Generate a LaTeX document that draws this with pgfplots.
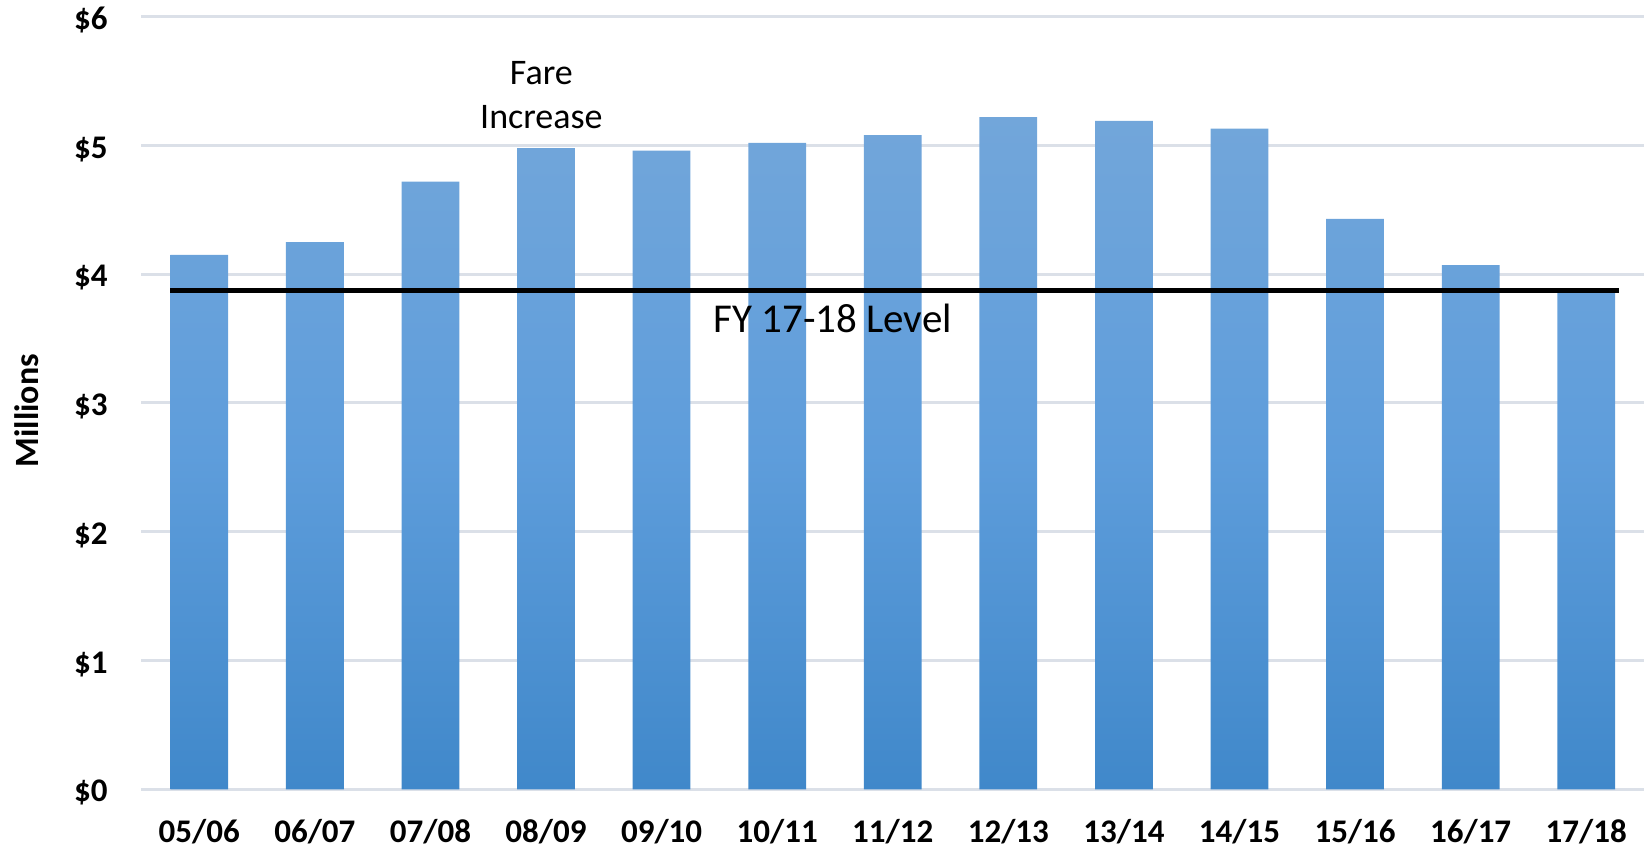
\documentclass[border=0pt]{standalone}
\usepackage{fontspec}
\setmainfont{Carlito}
\usepackage{pgfplots}
\pgfplotsset{compat=1.18}
\definecolor{bartop}{RGB}{114,166,218}
\definecolor{barmid}{RGB}{94,157,219}
\definecolor{barbot}{RGB}{64,136,202}
\definecolor{gridc}{RGB}{219,224,232}
\begin{document}
\begin{tikzpicture}
\begin{axis}[
  scale only axis, width=751.25pt, height=386.3pt,
  xmin=-0.5, xmax=12.5, ymin=0, ymax=6,
  axis line style={draw=none}, tick style={draw=none}, major tick length=0pt,
  ymajorgrids, grid style={gridc, line width=1.5pt},
  xtick={0,...,12},
  xticklabels={05/06,06/07,07/08,08/09,09/10,10/11,11/12,12/13,13/14,14/15,15/16,16/17,17/18},
  ytick={0,...,6},
  yticklabels={\$0,\$1,\$2,\$3,\$4,\$5,\$6},
  ticklabel style={font=\bfseries\fontsize{16.5}{18}\selectfont, inner sep=0pt},
  yticklabel style={anchor=base east, xshift=-16.75pt, yshift=-6.3pt},
  xticklabel style={anchor=base, yshift=-26.85pt},
  ylabel={Millions},
  ylabel style={at={(rel axis cs:-0.0762,0.49)}, anchor=center, font=\bfseries\fontsize{17}{20}\selectfont},
  clip=false,
]
\addplot[ybar, bar width=0.5, top color=bartop, bottom color=barbot, middle color=barmid, draw=none]
  coordinates {(0,4.15) (1,4.25) (2,4.72) (3,4.98) (4,4.96) (5,5.02) (6,5.08) (7,5.22) (8,5.19) (9,5.13) (10,4.43) (11,4.07) (12,3.87)};
\addplot[black, line width=2.5pt] coordinates {(-0.25,3.87) (12.28,3.87)};
\node[font=\fontsize{18}{22}\selectfont, align=center] at (axis cs:2.96,5.39) {Fare\\Increase};
\node[font=\fontsize{20.5}{24}\selectfont] at (axis cs:5.48,3.66) {FY 17-18 Level};
\coordinate (ll) at (rel axis cs:0,0);
\coordinate (ur) at (rel axis cs:1,1);
\end{axis}
\pgfresetboundingbox
\path (ll) ++(-70.75pt,-32.35pt) rectangle ([yshift=8.35pt]ur);
\end{tikzpicture}
\end{document}
